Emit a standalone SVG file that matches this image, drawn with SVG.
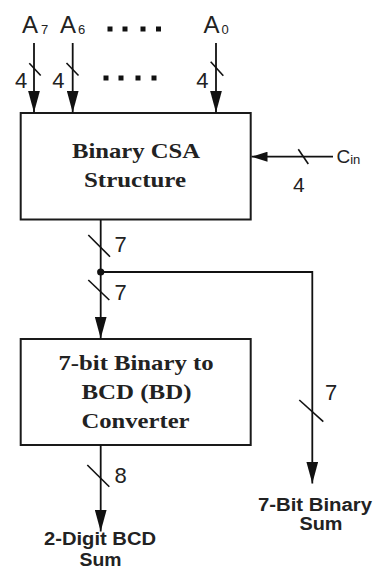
<svg xmlns="http://www.w3.org/2000/svg" width="381" height="568" viewBox="0 0 381 568">
  <style>
    .box { fill: #ffffff; stroke: #1a1a1a; stroke-width: 2; }
    .wire { fill: none; stroke: #111111; stroke-width: 1.8; }
    .bus { fill: none; stroke: #111111; stroke-width: 1.6; }
    .sig { font-family: "Liberation Sans", Arial, sans-serif; fill: #222222; }
    .blk { font-family: "Liberation Serif", "Times New Roman", serif; font-weight: bold; font-size: 22px; fill: #222222; text-anchor: middle; }
    .out { font-family: "Liberation Sans", Arial, sans-serif; font-weight: bold; font-size: 17.5px; fill: #222222; text-anchor: middle; }
    .dot { fill: #111111; }
  </style>
  <defs>
    <marker id="arr" markerUnits="userSpaceOnUse" viewBox="0 0 22 12" markerWidth="22" markerHeight="12" refX="22" refY="6" orient="auto">
      <path d="M0,0 L22,6 L0,12 z" fill="#111111"/>
    </marker>
    <marker id="arr-sm" markerUnits="userSpaceOnUse" viewBox="0 0 16 10" markerWidth="16" markerHeight="10" refX="16" refY="5" orient="auto">
      <path d="M0,0 L16,5 L0,10 z" fill="#111111"/>
    </marker>
  </defs>
  <rect width="381" height="568" fill="#ffffff"/>

  <!-- input labels -->
  <g id="inputs">
    <text class="sig" x="22" y="33.3" font-size="24">A<tspan font-size="13" dx="3" dy="1">7</tspan></text>
    <text class="sig" x="60" y="33.3" font-size="24">A<tspan font-size="13" dx="2" dy="1">6</tspan></text>
    <text class="sig" x="203.5" y="33.3" font-size="24">A<tspan font-size="13" dx="2" dy="1">0</tspan></text>
    <g class="dot">
      <rect x="107.5" y="26.5" width="5" height="5"/>
      <rect x="122.5" y="26.5" width="5" height="5"/>
      <rect x="140.5" y="26.5" width="5" height="5"/>
      <rect x="156" y="26.5" width="5" height="5"/>
      <rect x="103.5" y="75.5" width="5" height="5"/>
      <rect x="118.5" y="75.5" width="5" height="5"/>
      <rect x="135.5" y="75.5" width="5" height="5"/>
      <rect x="151.5" y="75.5" width="5" height="5"/>
    </g>
    <text class="sig" x="336.5" y="163.3" font-size="19">C<tspan font-size="13" dy="1">in</tspan></text>
  </g>

  <!-- Binary CSA block -->
  <g id="csa">
    <rect class="box" x="20.7" y="113" width="230" height="106.5"/>
    <text class="blk" x="136" y="158.3" textLength="128" lengthAdjust="spacingAndGlyphs">Binary CSA</text>
    <text class="blk" x="135" y="187" textLength="102" lengthAdjust="spacingAndGlyphs">Structure</text>
  </g>

  <!-- binary to BCD converter block -->
  <g id="converter">
    <rect class="box" x="20.7" y="339" width="230" height="106"/>
    <text class="blk" x="136" y="370" textLength="155" lengthAdjust="spacingAndGlyphs">7-bit Binary to</text>
    <text class="blk" x="136.5" y="399.3" textLength="110" lengthAdjust="spacingAndGlyphs">BCD (BD)</text>
    <text class="blk" x="135.5" y="428.3" textLength="108" lengthAdjust="spacingAndGlyphs">Converter</text>
  </g>

  <!-- outputs -->
  <g id="bcd-sum">
    <text class="out" x="100" y="545" textLength="112" lengthAdjust="spacingAndGlyphs">2-Digit BCD</text>
    <text class="out" x="100.5" y="565.5" textLength="42" lengthAdjust="spacingAndGlyphs">Sum</text>
  </g>
  <g id="binary-sum">
    <text class="out" x="315" y="510.5" textLength="114" lengthAdjust="spacingAndGlyphs">7-Bit Binary</text>
    <text class="out" x="321" y="529.5" textLength="43" lengthAdjust="spacingAndGlyphs">Sum</text>
  </g>

  <!-- connectors -->
  <g id="connectors">
    <line class="wire" x1="34" y1="43" x2="34" y2="112.5" marker-end="url(#arr)"/>
    <line class="wire" x1="72.7" y1="43" x2="72.7" y2="112.5" marker-end="url(#arr)"/>
    <line class="wire" x1="216" y1="43" x2="216" y2="112.5" marker-end="url(#arr)"/>
    <line class="wire" x1="333" y1="156.7" x2="251.5" y2="156.7" marker-end="url(#arr-sm)"/>
    <line class="wire" x1="100.7" y1="220" x2="100.7" y2="338.5" marker-end="url(#arr)"/>
    <polyline class="wire" points="100.7,272 312.3,272 312.3,483.5" marker-end="url(#arr)"/>
    <circle cx="100.7" cy="272" r="3.6" fill="#111111"/>
    <line class="wire" x1="100.7" y1="445" x2="100.7" y2="531.5" marker-end="url(#arr)"/>

    <!-- bus width ticks -->
    <line class="bus" x1="29.3" y1="63.3" x2="40.7" y2="75.5"/>
    <line class="bus" x1="66.5" y1="63" x2="78.5" y2="75.5"/>
    <line class="bus" x1="210.7" y1="61.7" x2="223.3" y2="75.7"/>
    <line class="bus" x1="298.3" y1="149.3" x2="308.3" y2="164"/>
    <line class="bus" x1="88.3" y1="235" x2="110" y2="256.7"/>
    <line class="bus" x1="88.3" y1="280" x2="109.3" y2="300"/>
    <line class="bus" x1="299.3" y1="400" x2="323.3" y2="421.7"/>
    <line class="bus" x1="87.3" y1="465" x2="109.3" y2="486.7"/>

    <!-- bus widths -->
    <text class="sig" x="15" y="88" font-size="22">4</text>
    <text class="sig" x="52.2" y="88" font-size="22">4</text>
    <text class="sig" x="196.3" y="88" font-size="22">4</text>
    <text class="sig" x="293" y="191.5" font-size="21">4</text>
    <text class="sig" x="114.5" y="251.7" font-size="22">7</text>
    <text class="sig" x="114.5" y="300" font-size="22">7</text>
    <text class="sig" x="325" y="400" font-size="22">7</text>
    <text class="sig" x="114.5" y="483.3" font-size="22">8</text>
  </g>
</svg>
